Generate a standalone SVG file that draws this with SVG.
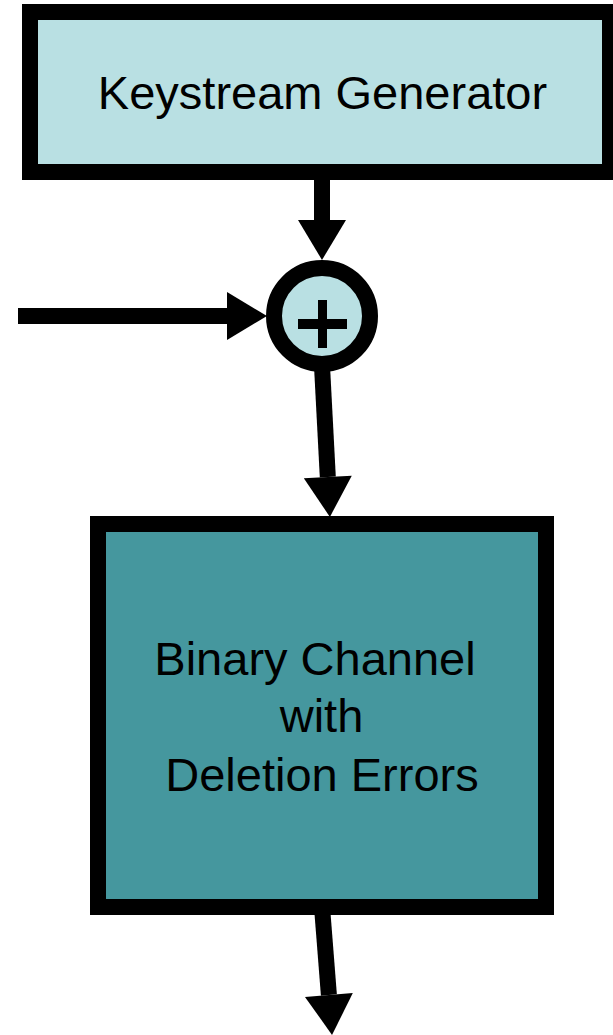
<svg xmlns="http://www.w3.org/2000/svg" width="613" height="1035" viewBox="0 0 613 1035">
<style>
.box{stroke:#000;stroke-width:16}
.lbl{font-family:"Liberation Sans",Arial,sans-serif;font-size:47px;fill:#000;text-anchor:middle}
.conn{stroke:#000;stroke-width:16;fill:none}
</style>
<defs>
<marker id="arr" markerUnits="userSpaceOnUse" markerWidth="40" markerHeight="48" refX="0" refY="24" orient="auto" overflow="visible">
<path d="M0,0 L40,24 L0,48 Z" fill="#000"/>
</marker>
</defs>
<rect width="613" height="1035" fill="#fff"/>
<g id="connectors">
<line class="conn" x1="322" y1="172" x2="322" y2="220" marker-end="url(#arr)"/>
<line class="conn" x1="18" y1="316" x2="227" y2="316" marker-end="url(#arr)"/>
<line class="conn" x1="322" y1="366" x2="327.8" y2="477" marker-end="url(#arr)"/>
<line class="conn" x1="322" y1="907" x2="328.9" y2="995" marker-end="url(#arr)"/>
</g>
<g id="keystream-generator">
<rect class="box" x="30" y="12" width="580" height="160" fill="#B9E0E3"/>
<text class="lbl" x="322.5" y="109">Keystream Generator</text>
</g>
<g id="xor">
<circle cx="322" cy="316" r="48" fill="#B9E0E3" stroke="#000" stroke-width="16"/>
<line x1="322.5" y1="300" x2="322.5" y2="348" stroke="#000" stroke-width="9"/>
<line x1="298" y1="324" x2="347" y2="324" stroke="#000" stroke-width="10"/>
</g>
<g id="binary-channel">
<rect class="box" x="98" y="524" width="448" height="383" fill="#45979E"/>
<text class="lbl" x="315" y="675">Binary Channel</text>
<text class="lbl" x="321.5" y="732">with</text>
<text class="lbl" x="322" y="791">Deletion Errors</text>
</g>
</svg>
